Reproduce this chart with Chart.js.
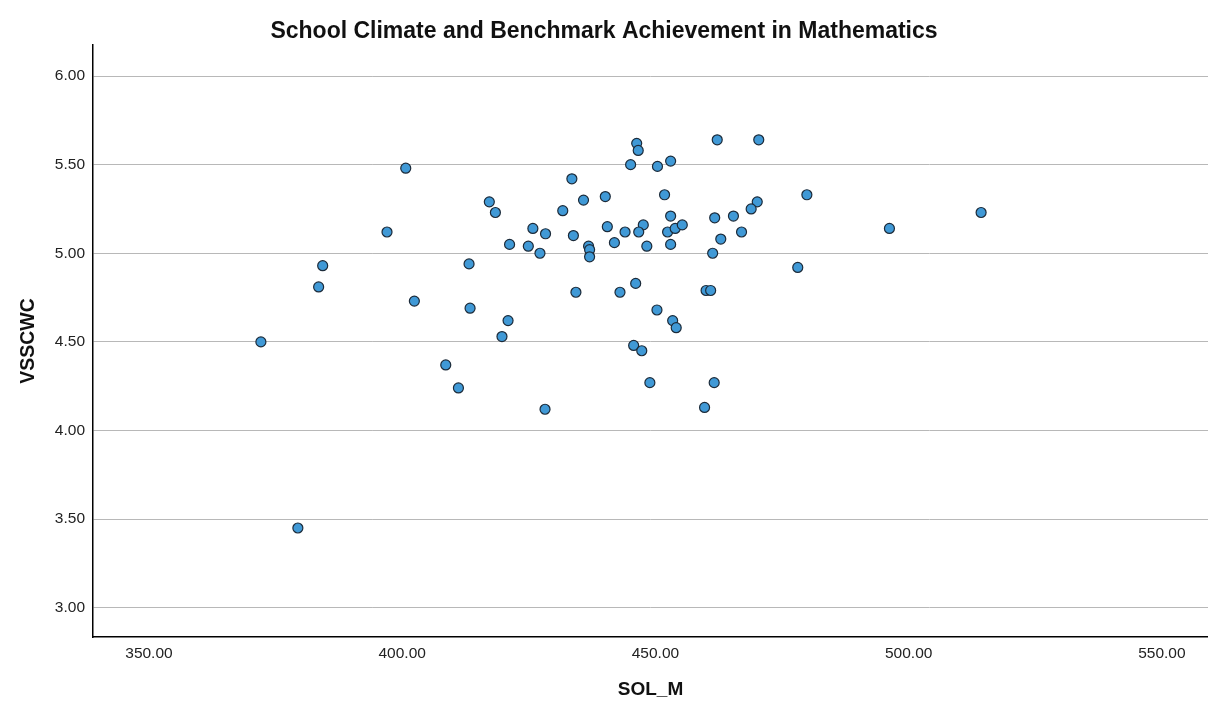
<!DOCTYPE html>
<html>
<head>
<meta charset="utf-8">
<script src="https://cdn.jsdelivr.net/npm/chart.js@4/dist/chart.umd.min.js"></script>
<style>
html,body{margin:0;padding:0;background:#fff;}
#wrap{width:1208px;height:709px;position:relative;}
</style>
</head>
<body>
<div id="wrap"><canvas id="c" width="1208" height="709"></canvas></div>
<script>
const chartTitle = "School Climate and Benchmark Achievement in Mathematics";
const xTitle = "SOL_M";
const yTitle = "VSSCWC";
const xTicks = [350, 400, 450, 500, 550];
const yTicks = [3.0, 3.5, 4.0, 4.5, 5.0, 5.5, 6.0];
const solM = [400.7,433.5,435.8,417.2,418.4,431.7,397.0,425.8,428.3,433.8,421.2,424.9,427.2,436.8,437.0,437.0,384.3,413.2,383.5,434.3,402.4,413.4,420.9,419.7,372.1,408.6,411.1,428.2,379.4,446.3,446.6,462.2,470.4,445.1,450.4,453.0,440.1,451.8,479.9,470.1,468.9,514.3,453.0,461.7,465.4,496.2,440.5,447.6,444.0,446.7,452.4,453.9,455.3,467.0,441.9,448.3,453.0,462.9,461.3,478.1,446.1,443.0,460.0,460.9,450.3,453.4,454.1,445.7,447.3,448.9,461.6,459.7];
const vsscwc = [5.48,5.42,5.30,5.29,5.23,5.24,5.12,5.14,5.11,5.10,5.05,5.04,5.00,5.04,5.02,4.98,4.93,4.94,4.81,4.78,4.73,4.69,4.62,4.53,4.50,4.37,4.24,4.12,3.45,5.62,5.58,5.64,5.64,5.50,5.49,5.52,5.32,5.33,5.33,5.29,5.25,5.23,5.21,5.20,5.21,5.14,5.15,5.16,5.12,5.12,5.12,5.14,5.16,5.12,5.06,5.04,5.05,5.08,5.00,4.92,4.83,4.78,4.79,4.79,4.68,4.62,4.58,4.48,4.45,4.27,4.27,4.13];

const points = solM.map((x, i) => ({x: x, y: vsscwc[i]}));
const FONT = "'Liberation Sans', Arial, sans-serif";

new Chart(document.getElementById('c'), {
  type: 'scatter',
  data: {
    datasets: [{
      data: points,
      backgroundColor: 'rgb(64,153,214)',
      borderColor: '#1c2b3a',
      borderWidth: 1.2,
      pointRadius: 5,
      pointHoverRadius: 5
    }]
  },
  options: {
    responsive: false,
    animation: false,
    events: [],
    layout: {autoPadding: false, padding: {left: 0, right: 0, top: 0, bottom: 0}},
    plugins: {
      legend: {display: false},
      tooltip: {enabled: false},
      title: {
        display: true,
        text: chartTitle,
        color: '#111',
        font: {family: FONT, size: 23, weight: 'bold', lineHeight: 1.2},
        padding: {top: 17.4, bottom: 0}
      }
    },
    scales: {
      x: {
        type: 'linear',
        min: 338.95,
        max: 559.1,
        afterBuildTicks: s => { s.ticks = xTicks.map(v => ({value: v})); },
        afterFit: s => { s.height = 72; s.paddingLeft = 0; s.paddingRight = 0; },
        grid: {display: true, drawOnChartArea: false, drawTicks: false},
        border: {display: true, color: '#000', width: 1.5},
        ticks: {
          color: '#222',
          padding: 7,
          font: {family: FONT, size: 15.5},
          maxRotation: 0,
          callback: v => Number(v).toFixed(2)
        },
        title: {
          display: true,
          text: xTitle,
          color: '#111',
          font: {family: FONT, size: 19, weight: 'bold', lineHeight: 1.2},
          padding: {top: 0, bottom: 7.6}
        }
      },
      y: {
        type: 'linear',
        min: 2.835,
        max: 6.175,
        afterBuildTicks: s => { s.ticks = yTicks.map(v => ({value: v})); },
        afterFit: s => { s.width = 93; s.paddingTop = 0; s.paddingBottom = 0; },
        grid: {display: true, drawTicks: false, color: '#b8b8b8', lineWidth: 1},
        border: {display: true, color: '#000', width: 1.5},
        ticks: {
          color: '#222',
          padding: 8,
          font: {family: FONT, size: 15.5},
          callback: v => Number(v).toFixed(2)
        },
        title: {
          display: true,
          text: yTitle,
          color: '#111',
          font: {family: FONT, size: 19.5, weight: 'bold', lineHeight: 1.2},
          padding: {top: 17, bottom: 0}
        }
      }
    }
  }
});
</script>
</body>
</html>
